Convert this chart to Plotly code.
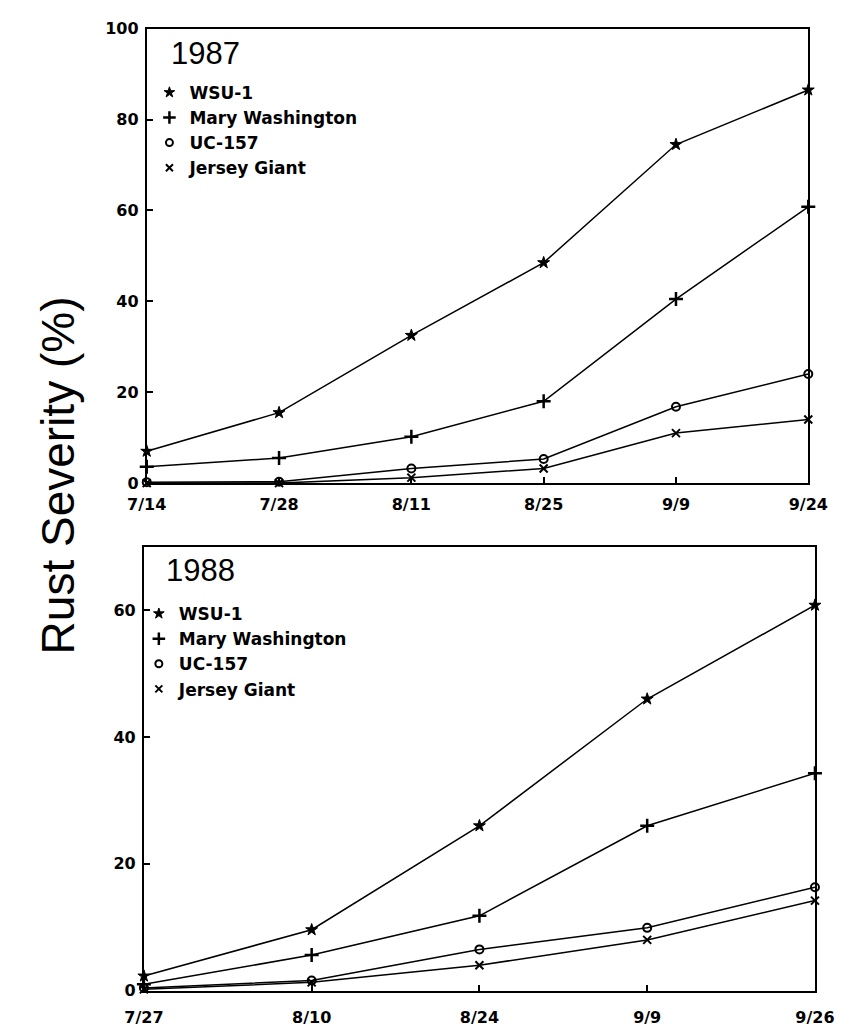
import plotly.graph_objects as go

# ---------------- data ----------------
dates_1987 = ["7/14", "7/28", "8/11", "8/25", "9/9", "9/24"]
wsu1_1987 = [7.0, 15.5, 32.5, 48.5, 74.5, 86.5]
mary_1987 = [3.6, 5.5, 10.2, 18.0, 40.5, 60.8]
uc157_1987 = [0.2, 0.3, 3.2, 5.3, 16.8, 24.0]
jersey_1987 = [0.0, 0.0, 1.2, 3.2, 11.0, 14.0]

dates_1988 = ["7/27", "8/10", "8/24", "9/9", "9/26"]
wsu1_1988 = [2.3, 9.6, 26.0, 46.0, 60.8]
mary_1988 = [1.0, 5.6, 11.8, 26.0, 34.3]
uc157_1988 = [0.4, 1.6, 6.5, 9.9, 16.3]
jersey_1988 = [0.2, 1.3, 4.0, 8.0, 14.2]

cultivars = ["WSU-1", "Mary Washington", "UC-157", "Jersey Giant"]
symbols = ["star", "cross-thin-open", "circle-open", "x-thin-open"]
sizes = [9, 10, 8, 8]
widths = [1, 2.5, 2, 2]

fig = go.Figure()

panels = [
    (dates_1987, [wsu1_1987, mary_1987, uc157_1987, jersey_1987], "x", "y", "legend"),
    (dates_1988, [wsu1_1988, mary_1988, uc157_1988, jersey_1988], "x2", "y2", "legend2"),
]

for dates, series, xa, ya, lg in panels:
    for name, vals, sym, sz, lw in zip(cultivars, series, symbols, sizes, widths):
        fig.add_trace(go.Scatter(
            x=dates, y=vals, mode="lines+markers", name=name,
            xaxis=xa, yaxis=ya, showlegend=False, cliponaxis=False,
            line=dict(color="black", width=1.5),
            marker=dict(symbol=sym, size=sz, color="black",
                        line=dict(color="black", width=lw)),
        ))
    for name, sym, sz, lw in zip(cultivars, symbols, sizes, widths):
        fig.add_trace(go.Scatter(
            x=[None], y=[None], mode="markers", name=name,
            xaxis=xa, yaxis=ya, legend=lg, showlegend=True,
            marker=dict(symbol=sym, size=sz - 1, color="black",
                        line=dict(color="black", width=lw)),
        ))

tickfont = dict(family="DejaVu Sans", size=16, color="black", weight="bold")
axis_common = dict(showline=True, linecolor="black", linewidth=2, mirror=True,
                   showgrid=False, zeroline=False, ticks="inside", ticklen=6,
                   tickwidth=1.5, tickcolor="black", tickfont=tickfont)

legfont = dict(family="DejaVu Sans", size=17, color="black", weight="bold")

fig.update_layout(
    width=854, height=1032,
    margin=dict(l=0, r=0, t=0, b=0),
    paper_bgcolor="white", plot_bgcolor="white",
    xaxis=dict(domain=[0.1557, 0.9684], anchor="y", type="category",
               range=[0, len(dates_1987) - 1], ticklabelstandoff=6, **axis_common),
    yaxis=dict(domain=[0.532, 0.9806], anchor="x", range=[0, 100],
               tickvals=[0, 20, 40, 60, 80, 100], ticklabelstandoff=3, **axis_common),
    xaxis2=dict(domain=[0.1522, 0.9766], anchor="y2", type="category",
                range=[0, len(dates_1988) - 1], ticklabelstandoff=11, **axis_common),
    yaxis2=dict(domain=[0.031, 0.469], anchor="x2", range=[0, 70],
                tickvals=[0, 20, 40, 60], ticklabelstandoff=3, **axis_common),
    legend=dict(x=0.159, y=0.935, xanchor="left", yanchor="top",
                bgcolor="rgba(0,0,0,0)", font=legfont, itemwidth=30,
                tracegroupgap=0),
    legend2=dict(x=0.146, y=0.4205, xanchor="left", yanchor="top",
                 bgcolor="rgba(0,0,0,0)", font=legfont, itemwidth=30,
                 tracegroupgap=0),
    annotations=[
        dict(text="1987", x=156 / 854, y=1 - 45 / 1032, xref="paper", yref="paper",
             xanchor="left", yanchor="middle", showarrow=False,
             font=dict(family="Liberation Sans", size=31, color="black")),
        dict(text="1988", x=151 / 854, y=1 - 572 / 1032, xref="paper", yref="paper",
             xanchor="left", yanchor="middle", showarrow=False,
             font=dict(family="Liberation Sans", size=31, color="black")),
        dict(text="Rust Severity (%)", x=40 / 854, y=1 - 475 / 1032,
             xref="paper", yref="paper", xanchor="center", yanchor="middle",
             showarrow=False, textangle=-90,
             font=dict(family="Liberation Sans", size=46, color="black")),
    ],
)

fig.write_html(
    "out.html",
    config={"displayModeBar": False},
    post_script="document.body.style.margin='0';document.body.style.padding='0';"
                "document.body.style.overflow='hidden';"
                "document.documentElement.style.overflow='hidden';",
)
